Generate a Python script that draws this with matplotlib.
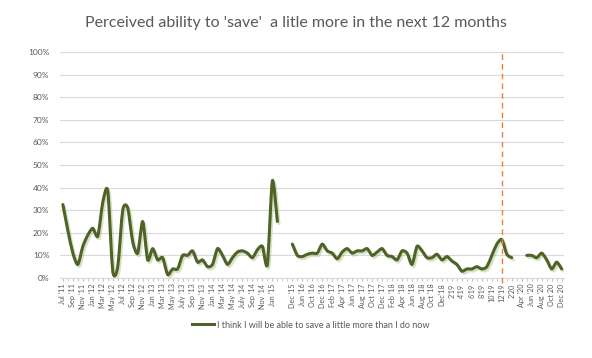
import numpy as np
import matplotlib.pyplot as plt
from matplotlib.path import Path
from matplotlib.patches import PathPatch
from matplotlib.lines import Line2D
import matplotlib.patheffects as pe
from matplotlib.ticker import PercentFormatter, MultipleLocator, FixedLocator

plt.rcParams['font.family'] = ['Lato', 'DejaVu Sans']

nan = np.nan

# % who think they will be able to save a little more
save_2011_2015 = [32.5, 21, 11, 6, 14, 19, 22, 18.5, 33.5, 38.5,
                  3, 5, 30, 31, 16, 11, 25, 8, 13, 8,
                  9, 1.5, 4, 4, 10, 10, 12, 7, 8, 5,
                  6, 13, 10, 6, 9, 11.5, 12, 11, 9, 12.5,
                  14, 6, 43, 25]
save_2015_2020 = [15, 10, 9.5, 10.5, 11, 11, 15, 12, 11, 8.5,
                  11.5, 13, 11, 12, 12, 13, 10, 11.5, 13, 10,
                  9.5, 8, 12, 11, 6, 14, 12, 9, 9, 10.5,
                  8, 9.5, 7.5, 6, 3, 4, 4, 5, 4, 5,
                  10, 15, 17, 10.5, 9]
save_2020 = [10, 10, 9, 11, 8, 4, 7, 4]

values = save_2011_2015 + [nan, nan] + save_2015_2020 + [nan, nan] + save_2020

labels_a = ["Jul '11", "Sep '11", "Nov '11", "Jan '12", "Mar '12", "May '12",
            "Jul '12", "Sep '12", "Nov '12", "Jan '13", "Mar '13", "May '13",
            "July '13", "Sep '13", "Nov '13", "Jan '14", "Mar '14", "May '14",
            "July '14", "Sep '14", "Nov '14", "Jan '15"]
labels_b = ["Dec '15", "Jun '16", "Oct '16", "Dec '16", "Feb '17", "Apr '17",
            "Jun '17", "Aug '17", "Oct '17", "Dec '17", "Feb '18", "Apr '18",
            "Jun '18", "Aug '18", "Oct '18", "Dec'18", "2'19", "4'19", "6'19",
            "8'19", "10'19", "12'19", "2'20", "Apr '20", "Jun '20", "Aug '20",
            "Oct 20", "Dec 20"]

n = len(values)
x = np.arange(n)
y = np.array(values, dtype=float)
start_b = len(save_2011_2015) + 2
tick_pos = list(range(0, 2 * len(labels_a), 2)) + list(range(start_b, start_b + 2 * len(labels_b), 2))
tick_lab = labels_a + labels_b
marker_pos = tick_pos[tick_lab.index("12'19")]

green = '#4F6228'
grey = '#595959'

fig = plt.figure(figsize=(5.92, 3.58), dpi=100)
ax = fig.add_axes([0.102, 0.2235, 0.851, 0.6312])


def smooth_path(xs, ys, k=8):
    # cubic bezier through the points (like a smoothed line in a spreadsheet)
    pts = np.column_stack([xs, ys])
    verts = [pts[0]]
    codes = [Path.MOVETO]
    for i in range(len(pts) - 1):
        p0 = pts[i - 1] if i > 0 else pts[i]
        p1 = pts[i]
        p2 = pts[i + 1]
        p3 = pts[i + 2] if i + 2 < len(pts) else pts[i + 1]
        c1 = p1 + (p2 - p0) / k
        c2 = p2 - (p3 - p1) / k
        verts += [c1, c2, p2]
        codes += [Path.CURVE4] * 3
    return Path(verts, codes)


ok = ~np.isnan(y)
edges = np.flatnonzero(np.diff(np.r_[0, ok.astype(int), 0]))
for s, e in zip(edges[::2], edges[1::2]):
    patch = PathPatch(smooth_path(x[s:e], y[s:e]), facecolor='none', edgecolor=green,
                      lw=2.2, capstyle='round', joinstyle='round', zorder=3)
    patch.set_path_effects([pe.SimpleLineShadow(offset=(1.2, -1.5), shadow_color='#8fae5a', alpha=0.35),
                            pe.Normal()])
    ax.add_patch(patch)

ax.axvline(marker_pos, ymin=-0.02, ymax=1.0, color='#F07F2E', lw=1.0, ls=(0, (4, 3)),
           zorder=4, clip_on=False)

ax.set_xlim(-0.5, n - 0.5)
ax.set_ylim(0, 100)
ax.yaxis.set_major_locator(MultipleLocator(10))
ax.yaxis.set_major_formatter(PercentFormatter(decimals=0))
ax.grid(axis='y', color='#D9D9D9', lw=0.8)
ax.set_axisbelow(True)

ax.xaxis.set_major_locator(FixedLocator(tick_pos))
ax.set_xticklabels(tick_lab, rotation=90, fontsize=5.2, color=grey)
ax.xaxis.set_minor_locator(FixedLocator(x))
ax.tick_params(axis='x', which='both', length=2, color='#BFBFBF', pad=2)
ax.tick_params(axis='y', length=0, labelsize=6, colors=grey, pad=8)

for side in ['left', 'right', 'top']:
    ax.spines[side].set_visible(False)
ax.spines['bottom'].set_color('#D9D9D9')

fig.text(0.5, 0.937, "Perceived ability to 'save'  a litle more in the next 12 months",
         ha='center', va='center', fontsize=11.5, color=grey)

handle = Line2D([], [], color=green, lw=2.2)
fig.legend([handle], ['I think I will be able to save a little more than I do now'],
           loc='center', bbox_to_anchor=(0.525, 0.092), frameon=False, fontsize=6.5,
           labelcolor=grey, handlelength=2.5, handletextpad=0.3)

fig.savefig('out.png', dpi=100, facecolor='white')
